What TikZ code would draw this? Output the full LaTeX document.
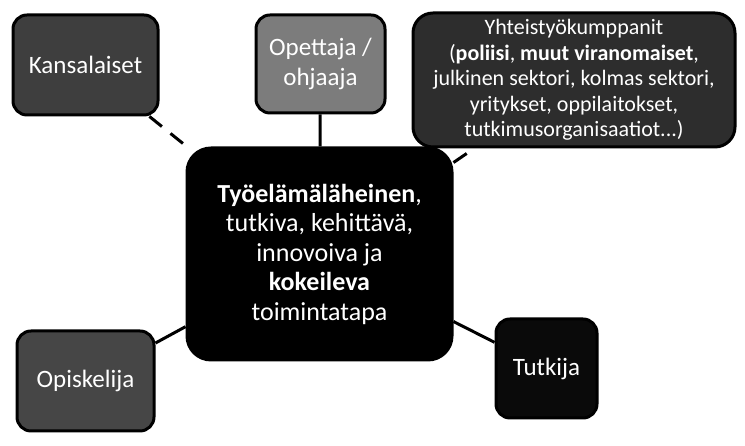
\documentclass[tikz,border=0pt]{standalone}
\usepackage{fontspec}
\setmainfont{Carlito}
\usepackage{xcolor}
\usepackage{tikz}
\definecolor{tummaharmaa}{HTML}{3E3E3E}
\definecolor{tummaharmaa2}{HTML}{464646}
\definecolor{harmaa}{HTML}{7C7C7C}
\definecolor{lahesmusta}{HTML}{2D2D2D}
\definecolor{musta}{HTML}{0A0A0A}
\tikzset{
	% laatikko
	laatikko/.style={
		draw=black,
		line width=3pt,
		rounded corners=14pt,
		text=white,
		align=center,
		inner sep=0pt,
		font=\fontsize{25}{30}\selectfont
	}, %
	% yhteys
	yhteys/.style={
		line width=3pt
	}, %
	% katkoviiva
	katko/.style={
		line width=3pt,
		dash pattern=on 16pt off 11pt
	} %
}

\begin{document}
\begin{tikzpicture}[x=1pt,y=1pt]
			\useasboundingbox (0,0) rectangle (745,446);
			
			% keskus
			\node [laatikko, fill=black, rounded corners=24pt, minimum width=265pt, minimum height=212pt,
				font=\fontsize{26}{29.5}\selectfont] (toiminta) at (319.5,192)
				{\textbf{Työelämäläheinen},\\tutkiva, kehittävä,\\innovoiva ja\\\textbf{kokeileva}\\toimintatapa};
			
			% ylhaalla
			\node [laatikko, fill=tummaharmaa, minimum width=145pt, minimum height=100pt] (kansalaiset) at (85.5,381) {Kansalaiset};
			\node [laatikko, fill=harmaa, minimum width=129pt, minimum height=98pt] (opettaja) at (320.5,382) {Opettaja /\\ohjaaja};
			\node [laatikko, fill=lahesmusta, rounded corners=20pt, minimum width=322pt, minimum height=134pt,
				font=\fontsize{22}{25.5}\selectfont] (yhteistyo) at (574,366)
				{Yhteistyökumppanit\\(\textbf{poliisi}, \textbf{muut viranomaiset},\\julkinen sektori, kolmas sektori,\\yritykset, oppilaitokset,\\tutkimusorganisaatiot...)};
			
			% alhaalla
			\node [laatikko, fill=tummaharmaa2, minimum width=137pt, minimum height=100pt] (opiskelija) at (85.5,65) {Opiskelija};
			\node [laatikko, fill=musta, minimum width=101pt, minimum height=99pt] (tutkija) at (546.5,77.5) {Tutkija};
			
			% yhteydet
			\draw [katko] (kansalaiset) -- (toiminta);
			\draw [yhteys] (opettaja) -- (toiminta);
			\draw [katko] (toiminta) -- (yhteistyo);
			\draw [yhteys] (opiskelija) -- (toiminta);
			\draw [yhteys] (toiminta) -- (tutkija);
		\end{tikzpicture}
\end{document}
